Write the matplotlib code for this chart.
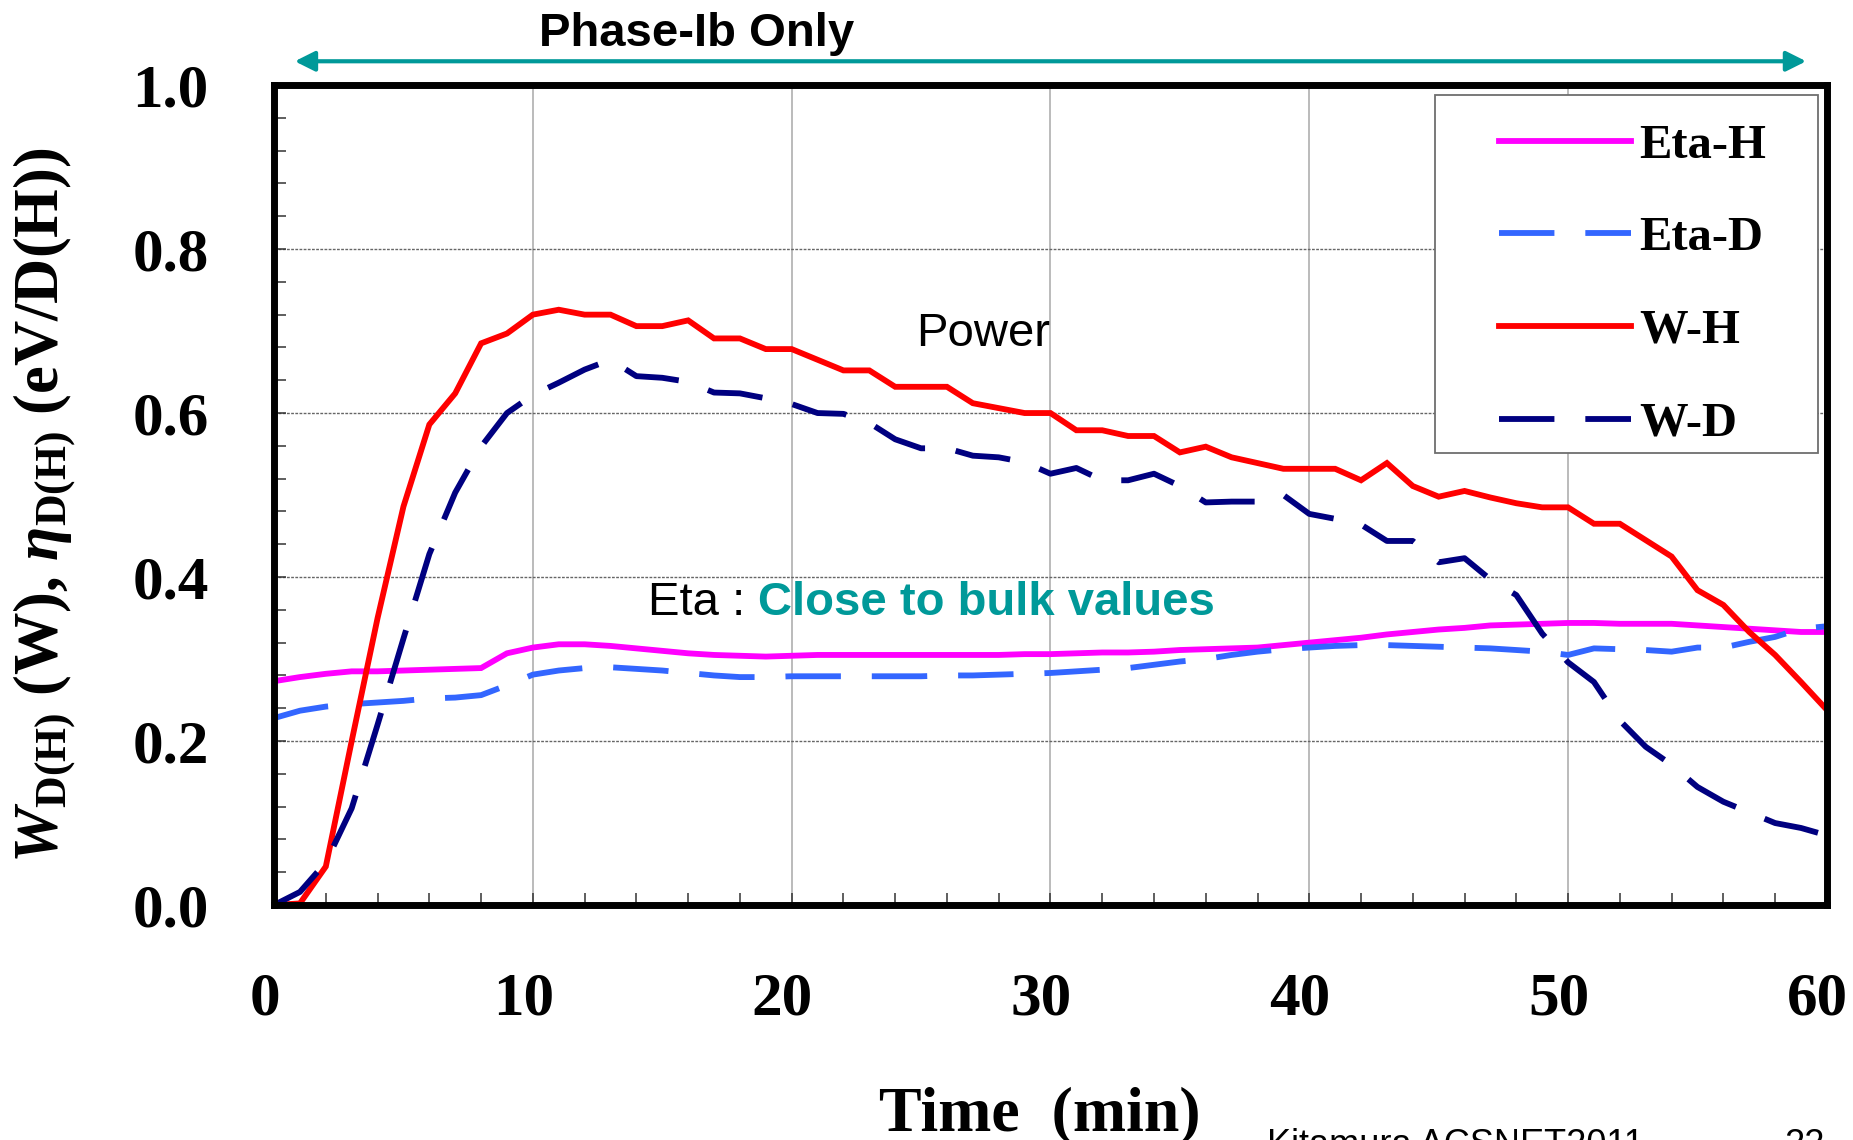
import matplotlib
matplotlib.use("Agg")
import matplotlib.pyplot as plt
import matplotlib.transforms as mtransforms
from matplotlib.lines import Line2D
from matplotlib.patches import Rectangle

# time axis (min) and the four series
minutes = list(range(61))

eta_h = [0.273, 0.278, 0.282, 0.285, 0.285, 0.286, 0.287, 0.288, 0.289, 0.307, 0.314,
         0.318, 0.318, 0.316, 0.313, 0.310, 0.307, 0.305, 0.304, 0.303, 0.304,
         0.305, 0.305, 0.305, 0.305, 0.305, 0.305, 0.305, 0.305, 0.306, 0.306,
         0.307, 0.308, 0.308, 0.309, 0.311, 0.312, 0.313, 0.314, 0.317, 0.320,
         0.323, 0.326, 0.330, 0.333, 0.336, 0.338, 0.341, 0.342, 0.343, 0.344,
         0.344, 0.343, 0.343, 0.343, 0.341, 0.339, 0.337, 0.335, 0.333, 0.333]

eta_d = [0.228, 0.237, 0.242, 0.245, 0.247, 0.249, 0.252, 0.253, 0.256, 0.268, 0.281,
         0.286, 0.289, 0.290, 0.288, 0.286, 0.283, 0.280, 0.278, 0.278, 0.279,
         0.279, 0.279, 0.279, 0.279, 0.279, 0.280, 0.280, 0.281, 0.282, 0.283,
         0.285, 0.287, 0.289, 0.293, 0.297, 0.300, 0.305, 0.309, 0.312, 0.314,
         0.316, 0.317, 0.317, 0.316, 0.315, 0.314, 0.313, 0.311, 0.309, 0.305,
         0.313, 0.312, 0.311, 0.309, 0.314, 0.314, 0.321, 0.327, 0.337, 0.340]

w_h = [0.0, 0.002, 0.047, 0.200, 0.350, 0.486, 0.586, 0.624, 0.685, 0.697, 0.720,
       0.726, 0.720, 0.720, 0.706, 0.706, 0.713, 0.691, 0.691, 0.678, 0.678,
       0.665, 0.652, 0.652, 0.632, 0.632, 0.632, 0.612, 0.606, 0.600, 0.600,
       0.579, 0.579, 0.572, 0.572, 0.552, 0.559, 0.546, 0.539, 0.532, 0.532,
       0.532, 0.518, 0.539, 0.511, 0.498, 0.505, 0.497, 0.490, 0.485, 0.485,
       0.465, 0.465, 0.445, 0.425, 0.384, 0.366, 0.333, 0.305, 0.272, 0.238]

w_d = [0.0, 0.016, 0.052, 0.118, 0.220, 0.325, 0.428, 0.503, 0.559, 0.600, 0.622,
       0.637, 0.653, 0.665, 0.645, 0.643, 0.638, 0.625, 0.624, 0.618, 0.611,
       0.600, 0.599, 0.588, 0.568, 0.557, 0.557, 0.548, 0.546, 0.540, 0.526,
       0.533, 0.518, 0.518, 0.526, 0.511, 0.491, 0.492, 0.492, 0.500, 0.477,
       0.471, 0.464, 0.444, 0.444, 0.418, 0.423, 0.397, 0.378, 0.331, 0.296,
       0.272, 0.225, 0.193, 0.171, 0.144, 0.126, 0.113, 0.100, 0.094, 0.085]

x_ticks = [0, 10, 20, 30, 40, 50, 60]
y_ticks = [0.0, 0.2, 0.4, 0.6, 0.8, 1.0]
y_tick_labels = ["0.0", "0.2", "0.4", "0.6", "0.8", "1.0"]

series = [
    ("Eta-H", eta_h, "#FF00FF", "-"),
    ("Eta-D", eta_d, "#3366FF", "--"),
    ("W-H", w_h, "#FF0000", "-"),
    ("W-D", w_d, "#000080", "--"),
]

plt.rcParams["mathtext.fontset"] = "custom"
plt.rcParams["mathtext.rm"] = "Liberation Serif:bold"
plt.rcParams["mathtext.bf"] = "Liberation Serif:bold"
plt.rcParams["mathtext.it"] = "Liberation Serif:italic:bold"

SERIF = "Liberation Serif"
SANS = "Liberation Sans"
TEAL = "#009999"

fig = plt.figure(figsize=(18.53, 11.40), dpi=100)
ax = fig.add_axes([0.1479, 0.2061, 0.838, 0.7193])

handles = []
for name, vals, color, ls in series:
    kw = dict(color=color, lw=4.2, solid_joinstyle="miter", zorder=2)
    if ls == "--":
        kw["dashes"] = (9.5, 5.3)
    ax.plot(minutes, vals, **kw)
    handles.append(Line2D([], [], **kw))

ax.set_xlim(0, 60)
ax.set_ylim(0, 1.0)

ax.set_xticks(x_ticks, [str(t) for t in x_ticks], fontsize=44,
              fontweight="bold", family=SERIF)
ax.set_yticks(y_ticks, y_tick_labels, fontsize=44, fontweight="bold", family=SERIF)
ax.set_xticks(range(0, 61, 2), minor=True)
ax.set_yticks([i * 0.04 for i in range(26)], minor=True)
ax.tick_params(axis="both", which="both", direction="in", length=8.5, width=1.1,
               color="#333333", top=False, right=False)
ax.tick_params(axis="x", which="major", pad=48)
ax.tick_params(axis="y", which="major", pad=47)

# the x numbers sit a little left of their ticks in the original
shift = mtransforms.ScaledTranslation(-0.095, 0, fig.dpi_scale_trans)
for lab in ax.get_xticklabels():
    lab.set_transform(lab.get_transform() + shift)

ax.grid(True, axis="x", which="major", color="#a8a8a8", lw=1.1, ls="-")
ax.grid(True, axis="y", which="major", color="#666666", lw=1.0, ls=(0, (2, 1)))
ax.set_axisbelow(True)

for sp in ax.spines.values():
    sp.set_linewidth(5)
    sp.set_color("black")
    sp.set_zorder(3)

# legend: opaque box drawn separately, entries placed inside it
ax.add_patch(Rectangle((0.7476, 0.5512), 0.2466, 0.4366, transform=ax.transAxes,
                       facecolor="white", edgecolor="#6e6e6e", lw=1.3,
                       zorder=4, clip_on=False))
leg = ax.legend(handles, [s[0] for s in series], loc="upper left",
                bbox_to_anchor=(0.7888, 0.953), frameon=False, borderpad=0,
                borderaxespad=0, handlelength=2.71, handletextpad=0.18,
                labelspacing=1.0, prop=dict(family=SERIF, weight="bold", size=35))
leg.set_zorder(5)

# "Phase-Ib Only" arrow across the top
ax.annotate("", xy=(0.8, 1.029), xytext=(59.2, 1.029),
            xycoords=("data", "axes fraction"), textcoords=("data", "axes fraction"),
            arrowprops=dict(arrowstyle="<|-|>", color=TEAL, lw=3, mutation_scale=30,
                            shrinkA=0, shrinkB=0), annotation_clip=False)
fig.text(0.376, 0.960, "Phase-Ib Only", ha="center", va="baseline", fontsize=34,
         fontweight="bold", family=SANS)

ax.text(24.8, 0.696, "Power", ha="left", va="center", fontsize=34, family=SANS, zorder=6)
t1 = ax.text(14.45, 0.368, "Eta : ", ha="left", va="center", fontsize=34,
             family=SANS, zorder=6)
ax.annotate("Close to bulk values", xy=(1, 0), xycoords=t1, ha="left", va="bottom",
            fontsize=34, fontweight="bold", family=SANS, color=TEAL, zorder=6)

fig.text(0.561, 0.047, "Time  (min)", ha="center", va="top", fontsize=46,
         fontweight="bold", family=SERIF)
fig.text(0.0243, 0.557, r"$W_{\mathrm{D(H)}}$ (W), $\eta_{\mathrm{D(H)}}$ (eV/D(H))",
         rotation=90, ha="center", va="center", fontsize=45, fontweight="bold",
         family=SERIF)

fig.text(0.684, 0.0105, "Kitamura ACSNET2011", ha="left", va="top", fontsize=26,
         family=SANS)
fig.text(0.963, 0.0105, "22", ha="left", va="top", fontsize=26, family=SANS)

fig.savefig("out.png", dpi=100)
